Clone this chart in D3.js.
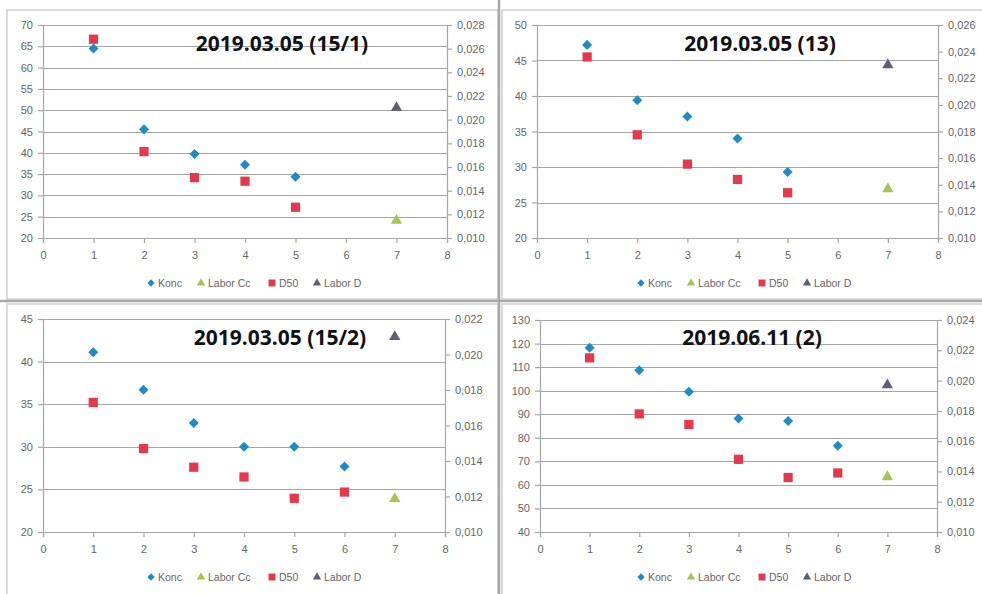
<!DOCTYPE html>
<html><head><meta charset="utf-8">
<script src="https://cdn.jsdelivr.net/npm/d3@7"></script>
<style>body{margin:0;background:#fff}svg{display:block}</style>
</head><body>
<svg id="c" width="982" height="594"></svg>
<script>
// ---- data ----
const titles = ["2019.03.05 (15/1)", "2019.03.05 (13)", "2019.03.05 (15/2)", "2019.06.11 (2)"];
const xTicks = [0,1,2,3,4,5,6,7,8];
const legendLabels = ["Konc", "Labor Cc", "D50", "Labor D"];

const x1 = [1,2,3,4,5];
const konc1 = [64.5, 45.5, 39.7, 37.2, 34.4];
const d50_1 = [0.0268, 0.0173, 0.0151, 0.0148, 0.0126];
const laborCc1 = [24.1];
const laborD1 = [0.0210];
const left1 = [20,70], right1 = [0.010,0.028];

const x2 = [1,2,3,4,5];
const konc2 = [47.2, 39.4, 37.1, 34.0, 29.3];
const d50_2 = [0.0236, 0.01775, 0.01555, 0.0144, 0.0134];
const laborCc2 = [26.9];
const laborD2 = [0.0230];
const left2 = [20,50], right2 = [0.010,0.026];

const x3 = [1,2,3,4,5,6];
const konc3 = [41.1, 36.7, 32.8, 30.0, 30.0, 27.7];
const d50_3 = [0.0173, 0.0147, 0.01365, 0.0131, 0.0119, 0.01225];
const laborCc3 = [23.9];
const laborD3 = [0.0210];
const left3 = [20,45], right3 = [0.010,0.022];

const x4 = [1,2,3,4,5,6];
const konc4 = [118.2, 108.7, 99.5, 88.2, 87.1, 76.6];
const d50_4 = [0.0215, 0.0178, 0.0171, 0.0148, 0.0136, 0.0139];
const laborCc4 = [63.4];
const laborD4 = [0.0197];
const left4 = [40,130], right4 = [0.010,0.024];
const leftSteps = [5,5,5,10];
const labX = 7;

const panels = [
  {title:titles[0], xs:x1, konc:konc1, d50:d50_1, cc:laborCc1, ld:laborD1, L:left1, R:right1, st:leftSteps[0],
   box:[43,447,25,238], frame:[7,10,491,289], tx:282, ty:51, leg:[147,283]},
  {title:titles[1], xs:x2, konc:konc2, d50:d50_2, cc:laborCc2, ld:laborD2, L:left2, R:right2, st:leftSteps[1],
   box:[537,938,25,238], frame:[502,10,490,289], tx:760, ty:51, leg:[637,283]},
  {title:titles[2], xs:x3, konc:konc3, d50:d50_3, cc:laborCc3, ld:laborD3, L:left3, R:right3, st:leftSteps[2],
   box:[43,445,319,532], frame:[7,304,491,300], tx:280, ty:345, leg:[147,577]},
  {title:titles[3], xs:x4, konc:konc4, d50:d50_4, cc:laborCc4, ld:laborD4, L:left4, R:right4, st:leftSteps[3],
   box:[540,937,320,532], frame:[502,304,490,300], tx:752, ty:345, leg:[637,577]}
];

const col = {konc:"#1e8cc4", cc:"#a8c450", d50:"#e6374b", ld:"#5d5f78"};
const svg = d3.select("#c");
const fmt = d => d3.format(".3f")(d).replace(".", ",");

// panel frames
panels.forEach(p=>{
  svg.append("rect").attr("x",p.frame[0]).attr("y",p.frame[1]).attr("width",p.frame[2]).attr("height",p.frame[3])
    .attr("fill","#fff").attr("stroke","#d0d0d0").attr("stroke-width",1.5);
});
// dividers
svg.append("line").attr("x1",499).attr("x2",499).attr("y1",0).attr("y2",594).attr("stroke","#a8a8a8").attr("stroke-width",2.5);
svg.append("line").attr("x1",0).attr("x2",982).attr("y1",301).attr("y2",301).attr("stroke","#a8a8a8").attr("stroke-width",2.5);

const sym = {
  konc: d3.symbol().type(d3.symbolDiamond2).size(64),
  tri: d3.symbol().type(d3.symbolTriangle).size(55),
  sq: d3.symbol().type(d3.symbolSquare).size(85)
};

panels.forEach(p=>{
  const [xl,xr,yt,yb] = p.box;
  const g = svg.append("g");
  const x = d3.scaleLinear().domain([0,8]).range([xl,xr]);
  const yL = d3.scaleLinear().domain(p.L).range([yb,yt]);
  const yR = d3.scaleLinear().domain(p.R).range([yb,yt]);
  const lt = d3.range(p.L[0], p.L[1]+0.001, p.st);
  const rt = d3.range(p.R[0], p.R[1]+1e-6, 0.002);

  // gridlines
  g.selectAll(".grid").data(lt).join("line")
    .attr("x1",xl).attr("x2",xr).attr("y1",d=>Math.round(yL(d))+0.5).attr("y2",d=>Math.round(yL(d))+0.5)
    .attr("stroke","#a6a6a6").attr("stroke-width",1.2);

  const axStyle = sel => {
    sel.selectAll("path,line").attr("stroke","#a6a6a6").attr("stroke-width",1.2);
    sel.selectAll("text").attr("fill","#666").attr("font-family","'Liberation Sans', Arial, sans-serif").attr("font-size",11);
  };
  g.append("g").attr("transform",`translate(${xl},0)`)
    .call(d3.axisLeft(yL).tickValues(lt).tickSize(5).tickPadding(5).tickFormat(d3.format("d")))
    .call(axStyle);
  g.append("g").attr("transform",`translate(${xr},0)`)
    .call(d3.axisRight(yR).tickValues(rt).tickSize(5).tickPadding(5).tickFormat(fmt))
    .call(axStyle);
  g.append("g").attr("transform",`translate(0,${yb})`)
    .call(d3.axisBottom(x).tickValues(xTicks).tickSize(5).tickPadding(8).tickFormat(d3.format("d")))
    .call(axStyle);

  // title
  g.append("text").attr("x",p.tx).attr("y",p.ty).attr("text-anchor","middle")
    .attr("font-family","'Open Sans', 'Noto Sans', sans-serif").attr("font-weight","bold").attr("font-size",21)
    .attr("fill","#111").text(p.title);

  // marks
  const pts = (xs, vs, sc, s, c) => g.append("g").selectAll("path").data(xs.map((d,i)=>[d,vs[i]])).join("path")
    .attr("transform",d=>`translate(${x(d[0])},${sc(d[1])})`).attr("d",s).attr("fill",c);
  pts(p.xs, p.konc, yL, sym.konc, col.konc);
  pts([labX], p.cc, yL, sym.tri, col.cc);
  pts(p.xs, p.d50, yR, sym.sq, col.d50);
  pts([labX], p.ld, yR, sym.tri, col.ld);

  // legend
  const lg = g.append("g").attr("transform",`translate(${p.leg[0]},${p.leg[1]})`);
  const items = [
    {s:d3.symbol().type(d3.symbolDiamond2).size(34), c:col.konc, t:legendLabels[0], dx:0},
    {s:d3.symbol().type(d3.symbolTriangle).size(30), c:col.cc, t:legendLabels[1], dx:50},
    {s:d3.symbol().type(d3.symbolSquare).size(48), c:col.d50, t:legendLabels[2], dx:121},
    {s:d3.symbol().type(d3.symbolTriangle).size(30), c:col.ld, t:legendLabels[3], dx:166}
  ];
  items.forEach(it=>{
    lg.append("path").attr("transform",`translate(${it.dx+4},0)`).attr("d",it.s).attr("fill",it.c);
    lg.append("text").attr("x",it.dx+11).attr("y",4).attr("font-family","'Liberation Sans', Arial, sans-serif")
      .attr("font-size",10.5).attr("fill","#666").text(it.t);
  });
});
</script>
</body></html>
